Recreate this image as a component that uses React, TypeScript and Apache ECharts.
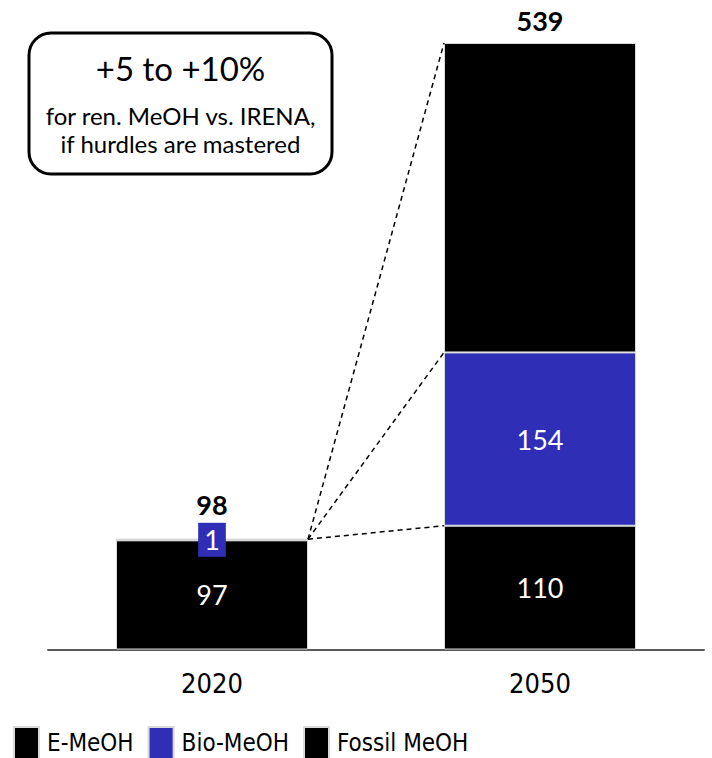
import React, { useEffect, useRef } from "react";
import * as echarts from "echarts";

const categories = ["2020", "2050"];
const fossilMeOH = [97, 110];
const bioMeOH = [1, 154];
const eMeOH = [0, 275];
const totals = [98, 539];
const seriesNames = ["E-MeOH", "Bio-MeOH", "Fossil MeOH"];
const boxTitle = "+5 to +10%";
const boxLines = ["for ren. MeOH vs. IRENA,", "if hurdles are mastered"];

const BLUE = "#2E2EB6";
const FONT = "Lato, 'Open Sans', sans-serif";
const NARROW = "'DejaVu Sans Condensed', 'DejaVu Sans', sans-serif";

export default function App() {
  const ref = useRef<HTMLDivElement>(null);
  useEffect(() => {
    document.body.style.margin = "0";
    const chart = echarts.init(ref.current!, null, { renderer: "svg" });
    const BAR_W = 192;
    const border = { borderColor: "#d9d9d9", borderWidth: 1 };
    const option: any = {
      animation: false,
      grid: { left: 48, right: 8, top: 43, bottom: 108.5 },
      xAxis: {
        type: "category",
        data: categories,
        axisLine: { lineStyle: { color: "#595959", width: 2 } },
        axisTick: { show: false },
        axisLabel: { color: "#000", fontSize: 27, fontFamily: NARROW, margin: 20 },
      },
      yAxis: { type: "value", min: 0, max: 539, show: false, splitLine: { show: false } },
      legend: {
        data: seriesNames,
        left: 13,
        top: 726,
        padding: 0,
        itemWidth: 25,
        itemHeight: 32,
        itemGap: 14,
        icon: "rect",
        textStyle: { color: "#000", fontSize: 24, fontFamily: NARROW, padding: [0, 0, 0, 3] },
      },
      series: [
        {
          name: "Fossil MeOH",
          type: "bar",
          stack: "total",
          barWidth: BAR_W,
          data: fossilMeOH,
          itemStyle: { color: "#000", ...border },
          label: { show: true, position: "inside", color: "#fff", fontSize: 27, fontFamily: FONT },
        },
        {
          name: "Bio-MeOH",
          type: "bar",
          stack: "total",
          barWidth: BAR_W,
          data: bioMeOH.map((v) =>
            v < 10
              ? { value: v, label: { backgroundColor: BLUE, padding: [7, 6, 7, 6], lineHeight: 20 } }
              : v
          ),
          itemStyle: { color: BLUE, ...border },
          label: { show: true, position: "inside", color: "#fff", fontSize: 27, fontFamily: FONT },
        },
        {
          name: "E-MeOH",
          type: "bar",
          stack: "total",
          barWidth: BAR_W,
          data: eMeOH.map((v) => ({ value: v, label: { distance: v === 0 ? 19 : 8 } })),
          itemStyle: { color: "#000", ...border },
          label: {
            show: true,
            position: "top",
            color: "#000",
            fontSize: 27,
            lineHeight: 30,
            fontWeight: "bold",
            fontFamily: FONT,
            formatter: (p: any) => String(totals[p.dataIndex]),
          },
        },
      ],
    };
    chart.setOption(option);

    const half = BAR_W / 2;
    const start = chart.convertToPixel({ gridIndex: 0 }, [0, totals[0]]) as number[];
    const sx = start[0] + half;
    const sy = start[1];
    const targets = [fossilMeOH[1], fossilMeOH[1] + bioMeOH[1], totals[1]];
    const lines = targets.map((t) => {
      const p = chart.convertToPixel({ gridIndex: 0 }, [1, t]) as number[];
      return {
        type: "line",
        shape: { x1: sx, y1: sy, x2: p[0] - half, y2: p[1] },
        style: { stroke: "#000", lineWidth: 1.5, lineDash: [5, 4] },
        z: 10,
      };
    });

    chart.setOption({
      graphic: [
        ...lines,
        {
          type: "rect",
          shape: { x: 29, y: 33, width: 303, height: 141, r: 22 },
          style: { fill: "#fff", stroke: "#000", lineWidth: 3 },
          z: 20,
        },
        {
          type: "text",
          x: 180.5,
          y: 68,
          style: {
            text: boxTitle,
            fill: "#000",
            fontSize: 33,
            fontFamily: FONT,
            textAlign: "center",
            textVerticalAlign: "middle",
          },
          z: 21,
        },
        ...boxLines.map((t, i) => ({
          type: "text",
          x: 180.5,
          y: 115 + i * 28,
          style: {
            text: t,
            fill: "#000",
            fontSize: 24,
            fontFamily: FONT,
            textAlign: "center",
            textVerticalAlign: "middle",
          },
          z: 21,
        })),
      ],
    });

    return () => chart.dispose();
  }, []);
  return <div ref={ref} style={{ width: 712, height: 758 }} />;
}
